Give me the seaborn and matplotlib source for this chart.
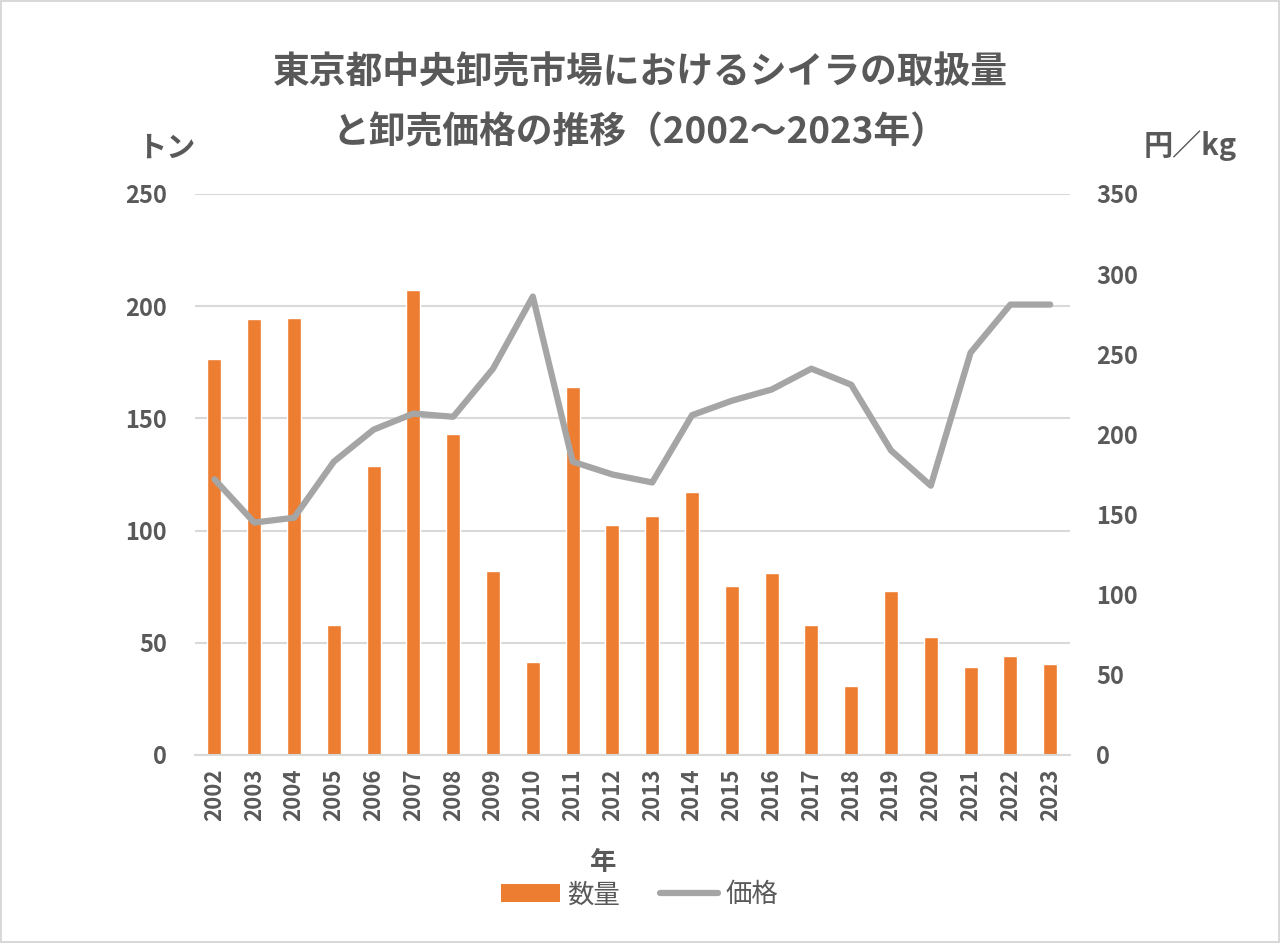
import numpy as np
import pandas as pd
import matplotlib
matplotlib.use("Agg")
import matplotlib.pyplot as plt
import seaborn as sns
from matplotlib.patches import Patch
from matplotlib.lines import Line2D

years = [str(y) for y in range(2002, 2024)]
quantity = [176.5, 194.3, 194.7, 57.9, 128.8, 207.2, 143.0, 82.0, 41.4, 164.0, 102.5,
            106.5, 117.2, 75.3, 81.1, 57.9, 30.7, 73.1, 52.6, 39.2, 44.1, 40.6]
price = [172, 145, 148, 183, 203, 213, 211, 241, 286, 183, 175,
         170, 212, 221, 228, 241, 231, 190, 168, 251, 281, 281]

df = pd.DataFrame({"year": years, "quantity": quantity, "price": price})
df["pos"] = np.arange(len(df))

sns.set_style("white")
plt.rcParams["font.family"] = ["Noto Sans CJK JP", "DejaVu Sans"]

text_col = "#595959"
bar_col = "#ED7D31"
line_col = "#A5A5A5"

fig = plt.figure(figsize=(12.8, 9.43), dpi=100)
fig.patch.set_edgecolor("#D9D9D9")
fig.patch.set_linewidth(1.5)
ax = fig.add_axes([0.152, 0.1994, 0.684, 0.5949])

sns.barplot(data=df, x="year", y="quantity", color=bar_col, width=0.35,
            saturation=1, ax=ax, zorder=2)
ax.set_ylim(0, 250)
ax.set_yticks(range(0, 251, 50))
ax.set_xlim(-0.5, len(years) - 0.5)
ax.yaxis.grid(True, color="#D9D9D9", linewidth=1.5, zorder=0)
ax.set_axisbelow(True)
for s in ["top", "right", "left"]:
    ax.spines[s].set_visible(False)
ax.spines["bottom"].set_color("#D9D9D9")
ax.spines["bottom"].set_linewidth(1.5)
ax.set_xlabel("")
ax.set_ylabel("")
ax.tick_params(axis="y", length=0, labelsize=17, labelcolor=text_col, pad=20)
ax.tick_params(axis="x", length=0, labelsize=16, labelcolor=text_col, pad=10)
for lab in ax.get_xticklabels():
    lab.set_rotation(90)
    lab.set_fontweight("bold")
for lab in ax.get_yticklabels():
    lab.set_fontweight("bold")

ax2 = ax.twinx()
sns.lineplot(data=df, x="pos", y="price", color=line_col, linewidth=4.5,
             ax=ax2, solid_capstyle="round", solid_joinstyle="round")
ax2.set_ylim(0, 350)
ax2.set_yticks(range(0, 351, 50))
ax2.set_xlim(-0.5, len(years) - 0.5)
for s in ["top", "right", "left", "bottom"]:
    ax2.spines[s].set_visible(False)
ax2.set_xlabel("")
ax2.set_ylabel("")
ax2.tick_params(axis="y", length=0, labelsize=17, labelcolor=text_col, pad=19)
for lab in ax2.get_yticklabels():
    lab.set_fontweight("bold")

fig.text(0.5, 0.923, "東京都中央卸売市場におけるシイラの取扱量", ha="center", va="center",
         fontsize=26.5, fontweight="bold", color=text_col)
fig.text(0.5, 0.859, "と卸売価格の推移（2002～2023年）", ha="center", va="center",
         fontsize=26.5, fontweight="bold", color=text_col)
fig.text(0.13, 0.843, "トン", ha="center", va="center", fontsize=21,
         fontweight="bold", color=text_col)
fig.text(0.93, 0.846, "円／kg", ha="center", va="center", fontsize=21,
         fontweight="bold", color=text_col)
fig.text(0.471, 0.085, "年", ha="center", va="center", fontsize=19,
         fontweight="bold", color=text_col)

handles = [Patch(facecolor=bar_col, edgecolor="none"),
           Line2D([0], [0], color=line_col, linewidth=4.5, solid_capstyle="round")]
fig.legend(handles, ["数量", "価格"], loc="center", bbox_to_anchor=(0.5, 0.051),
           ncol=2, frameon=False, fontsize=19, labelcolor=text_col,
           handlelength=2.2, handletextpad=0.3, columnspacing=1.5)

fig.savefig("out.png", dpi=100, facecolor="white", edgecolor=fig.patch.get_edgecolor())
